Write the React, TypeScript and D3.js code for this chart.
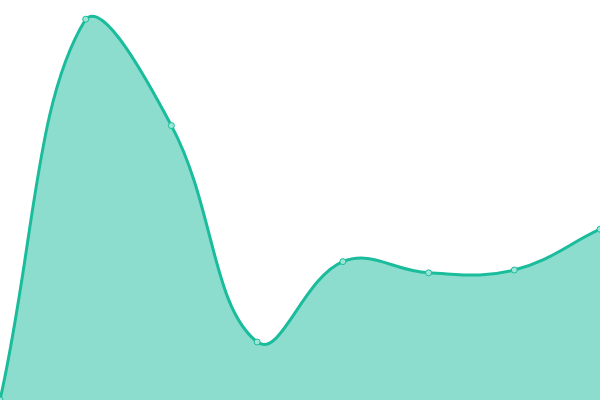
import React from "react";
import * as d3 from "d3";

const labels = ["A", "B", "C", "D", "E", "F", "G", "H"];
const values = [0, 95.2, 68.6, 14.5, 34.6, 31.8, 32.5, 42.7];

const W = 600;
const H = 400;
const TENSION = 0.4;

function chartJsCurve(tension: number, w: number, h: number) {
  return (context: any) => {
    const c: any = {
      _line: NaN,
      pts: [] as [number, number][],
      areaStart() { this._line = 0; },
      areaEnd() { this._line = NaN; },
      lineStart() { this.pts = []; },
      point(x: number, y: number) { this.pts.push([+x, +y]); },
      lineEnd() {
        const p = this.pts;
        const n = p.length;
        if (!n) return;
        const cps: { c1: number[]; c2: number[] }[] = [];
        for (let i = 0; i < n; i++) {
          const prev = p[Math.max(0, i - 1)];
          const cur = p[i];
          const next = p[Math.min(n - 1, i + 1)];
          const d01 = Math.hypot(cur[0] - prev[0], cur[1] - prev[1]);
          const d12 = Math.hypot(next[0] - cur[0], next[1] - cur[1]);
          let s01 = d01 / (d01 + d12);
          let s12 = d12 / (d01 + d12);
          if (isNaN(s01)) s01 = 0;
          if (isNaN(s12)) s12 = 0;
          const fa = tension * s01, fb = tension * s12;
          const cl = (v: number, m: number) => Math.max(0, Math.min(m, v));
          cps.push({
            c1: [cl(cur[0] - fa * (next[0] - prev[0]), w), cl(cur[1] - fa * (next[1] - prev[1]), h)],
            c2: [cl(cur[0] + fb * (next[0] - prev[0]), w), cl(cur[1] + fb * (next[1] - prev[1]), h)],
          });
        }
        if (this._line) context.lineTo(p[0][0], p[0][1]);
        else context.moveTo(p[0][0], p[0][1]);
        for (let i = 1; i < n; i++) {
          context.bezierCurveTo(cps[i - 1].c2[0], cps[i - 1].c2[1], cps[i].c1[0], cps[i].c1[1], p[i][0], p[i][1]);
        }
        if (this._line || (this._line !== 0 && n === 1)) context.closePath();
        this._line = 1 - this._line;
      },
    };
    return c;
  };
}

export default function App() {
  const x = d3.scalePoint<string>().domain(labels).range([0, W]);
  const y = d3.scaleLinear().domain([0, 100]).range([H, 0]);
  const data = labels.map((l, i) => ({ l, v: values[i] }));
  const curve: any = chartJsCurve(TENSION, W, H);

  const area = d3.area<any>().x((d) => x(d.l)!).y0(y(0)).y1((d) => y(d.v)).curve(curve);
  const line = d3.line<any>().x((d) => x(d.l)!).y((d) => y(d.v)).curve(curve);

  return (
    <svg width={W} height={H} style={{ position: "absolute", left: 0, top: 0 }}>
      <rect width={W} height={H} fill="#ffffff" />
      <path d={area(data) || ""} fill="rgba(26,188,156,0.5)" stroke="none" />
      <path d={line(data) || ""} fill="none" stroke="#1abc9c" strokeWidth={3} />
      {data.map((d, i) => (
        <circle key={i} cx={x(d.l)} cy={y(d.v)} r={3} fill="#9ee5d6" stroke="#1abc9c" strokeWidth={1} />
      ))}
    </svg>
  );
}
